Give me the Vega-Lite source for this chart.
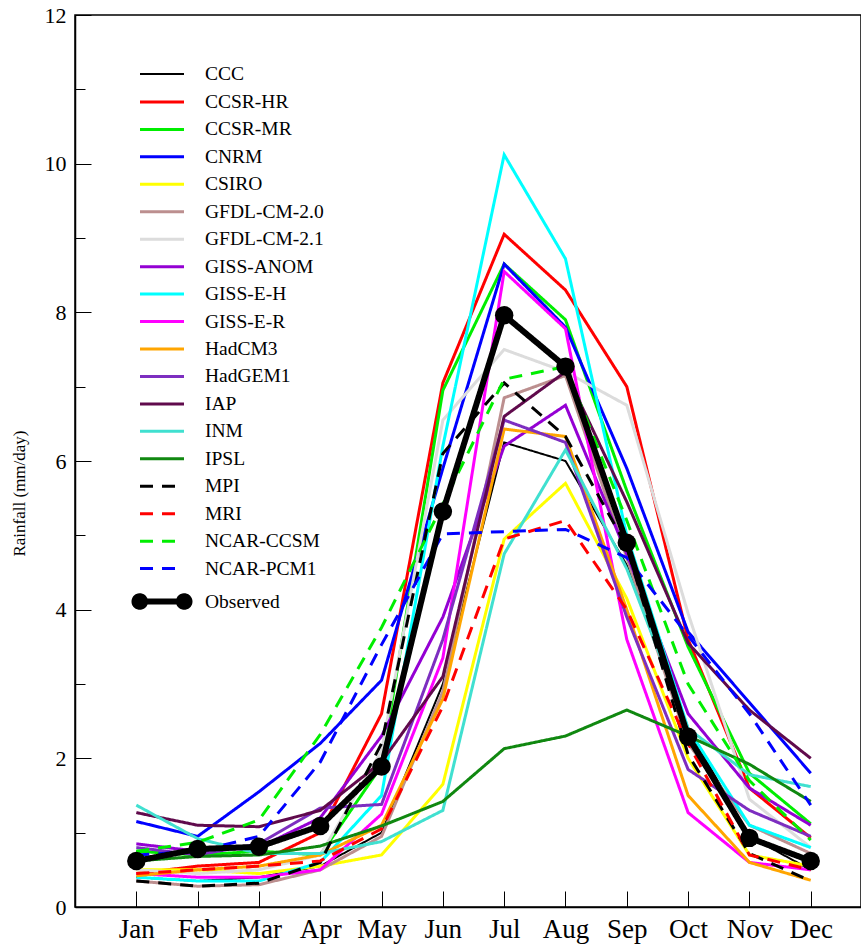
{
  "$schema": "https://vega.github.io/schema/vega-lite/v6.json",
  "autosize": {"type": "none"},
  "padding": {"left": 75, "top": 15, "right": 0, "bottom": 40},
  "width": 786,
  "height": 892,
  "background": "white",
  "config": {
    "view": {"stroke": "black", "strokeWidth": 1.5},
    "font": "Liberation Serif"
  },
  "datasets": {
    "rain": [
      {"s":"CCC","m":1,"v":0.40},{"s":"CCC","m":2,"v":0.35},{"s":"CCC","m":3,"v":0.40},{"s":"CCC","m":4,"v":0.55},{"s":"CCC","m":5,"v":1.00},{"s":"CCC","m":6,"v":3.00},{"s":"CCC","m":7,"v":6.25},{"s":"CCC","m":8,"v":6.00},{"s":"CCC","m":9,"v":4.60},{"s":"CCC","m":10,"v":2.40},{"s":"CCC","m":11,"v":0.95},{"s":"CCC","m":12,"v":0.50},
      {"s":"CCSR-HR","m":1,"v":0.45},{"s":"CCSR-HR","m":2,"v":0.55},{"s":"CCSR-HR","m":3,"v":0.60},{"s":"CCSR-HR","m":4,"v":1.00},{"s":"CCSR-HR","m":5,"v":2.60},{"s":"CCSR-HR","m":6,"v":7.05},{"s":"CCSR-HR","m":7,"v":9.05},{"s":"CCSR-HR","m":8,"v":8.30},{"s":"CCSR-HR","m":9,"v":7.00},{"s":"CCSR-HR","m":10,"v":3.60},{"s":"CCSR-HR","m":11,"v":1.60},{"s":"CCSR-HR","m":12,"v":0.93},
      {"s":"CCSR-MR","m":1,"v":0.75},{"s":"CCSR-MR","m":2,"v":0.70},{"s":"CCSR-MR","m":3,"v":0.75},{"s":"CCSR-MR","m":4,"v":0.70},{"s":"CCSR-MR","m":5,"v":1.90},{"s":"CCSR-MR","m":6,"v":6.95},{"s":"CCSR-MR","m":7,"v":8.65},{"s":"CCSR-MR","m":8,"v":7.90},{"s":"CCSR-MR","m":9,"v":5.60},{"s":"CCSR-MR","m":10,"v":3.50},{"s":"CCSR-MR","m":11,"v":1.80},{"s":"CCSR-MR","m":12,"v":1.12},
      {"s":"CNRM","m":1,"v":1.15},{"s":"CNRM","m":2,"v":0.95},{"s":"CNRM","m":3,"v":1.55},{"s":"CNRM","m":4,"v":2.20},{"s":"CNRM","m":5,"v":3.05},{"s":"CNRM","m":6,"v":5.90},{"s":"CNRM","m":7,"v":8.65},{"s":"CNRM","m":8,"v":7.80},{"s":"CNRM","m":9,"v":5.90},{"s":"CNRM","m":10,"v":3.70},{"s":"CNRM","m":11,"v":2.75},{"s":"CNRM","m":12,"v":1.80},
      {"s":"CSIRO","m":1,"v":0.50},{"s":"CSIRO","m":2,"v":0.50},{"s":"CSIRO","m":3,"v":0.45},{"s":"CSIRO","m":4,"v":0.55},{"s":"CSIRO","m":5,"v":0.70},{"s":"CSIRO","m":6,"v":1.65},{"s":"CSIRO","m":7,"v":4.95},{"s":"CSIRO","m":8,"v":5.70},{"s":"CSIRO","m":9,"v":4.15},{"s":"CSIRO","m":10,"v":2.00},{"s":"CSIRO","m":11,"v":0.70},{"s":"CSIRO","m":12,"v":0.55},
      {"s":"GFDL-CM-2.0","m":1,"v":0.35},{"s":"GFDL-CM-2.0","m":2,"v":0.28},{"s":"GFDL-CM-2.0","m":3,"v":0.30},{"s":"GFDL-CM-2.0","m":4,"v":0.50},{"s":"GFDL-CM-2.0","m":5,"v":0.95},{"s":"GFDL-CM-2.0","m":6,"v":2.90},{"s":"GFDL-CM-2.0","m":7,"v":6.85},{"s":"GFDL-CM-2.0","m":8,"v":7.15},{"s":"GFDL-CM-2.0","m":9,"v":4.70},{"s":"GFDL-CM-2.0","m":10,"v":2.20},{"s":"GFDL-CM-2.0","m":11,"v":1.10},{"s":"GFDL-CM-2.0","m":12,"v":0.72},
      {"s":"GFDL-CM-2.1","m":1,"v":0.50},{"s":"GFDL-CM-2.1","m":2,"v":0.45},{"s":"GFDL-CM-2.1","m":3,"v":0.50},{"s":"GFDL-CM-2.1","m":4,"v":0.70},{"s":"GFDL-CM-2.1","m":5,"v":2.10},{"s":"GFDL-CM-2.1","m":6,"v":6.55},{"s":"GFDL-CM-2.1","m":7,"v":7.50},{"s":"GFDL-CM-2.1","m":8,"v":7.20},{"s":"GFDL-CM-2.1","m":9,"v":6.75},{"s":"GFDL-CM-2.1","m":10,"v":3.95},{"s":"GFDL-CM-2.1","m":11,"v":1.45},{"s":"GFDL-CM-2.1","m":12,"v":0.80},
      {"s":"GISS-ANOM","m":1,"v":0.85},{"s":"GISS-ANOM","m":2,"v":0.75},{"s":"GISS-ANOM","m":3,"v":0.80},{"s":"GISS-ANOM","m":4,"v":1.20},{"s":"GISS-ANOM","m":5,"v":2.30},{"s":"GISS-ANOM","m":6,"v":3.90},{"s":"GISS-ANOM","m":7,"v":6.20},{"s":"GISS-ANOM","m":8,"v":6.75},{"s":"GISS-ANOM","m":9,"v":4.75},{"s":"GISS-ANOM","m":10,"v":2.60},{"s":"GISS-ANOM","m":11,"v":1.60},{"s":"GISS-ANOM","m":12,"v":1.10},
      {"s":"GISS-E-H","m":1,"v":0.40},{"s":"GISS-E-H","m":2,"v":0.35},{"s":"GISS-E-H","m":3,"v":0.35},{"s":"GISS-E-H","m":4,"v":0.60},{"s":"GISS-E-H","m":5,"v":1.50},{"s":"GISS-E-H","m":6,"v":6.20},{"s":"GISS-E-H","m":7,"v":10.12},{"s":"GISS-E-H","m":8,"v":8.72},{"s":"GISS-E-H","m":9,"v":5.00},{"s":"GISS-E-H","m":10,"v":2.40},{"s":"GISS-E-H","m":11,"v":1.10},{"s":"GISS-E-H","m":12,"v":0.80},
      {"s":"GISS-E-R","m":1,"v":0.45},{"s":"GISS-E-R","m":2,"v":0.40},{"s":"GISS-E-R","m":3,"v":0.40},{"s":"GISS-E-R","m":4,"v":0.50},{"s":"GISS-E-R","m":5,"v":1.25},{"s":"GISS-E-R","m":6,"v":3.35},{"s":"GISS-E-R","m":7,"v":8.55},{"s":"GISS-E-R","m":8,"v":7.78},{"s":"GISS-E-R","m":9,"v":3.60},{"s":"GISS-E-R","m":10,"v":1.27},{"s":"GISS-E-R","m":11,"v":0.60},{"s":"GISS-E-R","m":12,"v":0.50},
      {"s":"HadCM3","m":1,"v":0.42},{"s":"HadCM3","m":2,"v":0.50},{"s":"HadCM3","m":3,"v":0.55},{"s":"HadCM3","m":4,"v":0.70},{"s":"HadCM3","m":5,"v":1.10},{"s":"HadCM3","m":6,"v":2.80},{"s":"HadCM3","m":7,"v":6.43},{"s":"HadCM3","m":8,"v":6.33},{"s":"HadCM3","m":9,"v":4.00},{"s":"HadCM3","m":10,"v":1.50},{"s":"HadCM3","m":11,"v":0.60},{"s":"HadCM3","m":12,"v":0.36},
      {"s":"HadGEM1","m":1,"v":0.80},{"s":"HadGEM1","m":2,"v":0.70},{"s":"HadGEM1","m":3,"v":0.85},{"s":"HadGEM1","m":4,"v":1.33},{"s":"HadGEM1","m":5,"v":1.38},{"s":"HadGEM1","m":6,"v":3.60},{"s":"HadGEM1","m":7,"v":6.55},{"s":"HadGEM1","m":8,"v":6.25},{"s":"HadGEM1","m":9,"v":3.90},{"s":"HadGEM1","m":10,"v":1.85},{"s":"HadGEM1","m":11,"v":1.30},{"s":"HadGEM1","m":12,"v":0.95},
      {"s":"IAP","m":1,"v":1.27},{"s":"IAP","m":2,"v":1.10},{"s":"IAP","m":3,"v":1.08},{"s":"IAP","m":4,"v":1.30},{"s":"IAP","m":5,"v":1.95},{"s":"IAP","m":6,"v":3.10},{"s":"IAP","m":7,"v":6.60},{"s":"IAP","m":8,"v":7.20},{"s":"IAP","m":9,"v":5.45},{"s":"IAP","m":10,"v":3.55},{"s":"IAP","m":11,"v":2.65},{"s":"IAP","m":12,"v":2.00},
      {"s":"INM","m":1,"v":1.37},{"s":"INM","m":2,"v":0.92},{"s":"INM","m":3,"v":0.72},{"s":"INM","m":4,"v":0.72},{"s":"INM","m":5,"v":0.88},{"s":"INM","m":6,"v":1.30},{"s":"INM","m":7,"v":4.75},{"s":"INM","m":8,"v":6.15},{"s":"INM","m":9,"v":4.55},{"s":"INM","m":10,"v":2.40},{"s":"INM","m":11,"v":1.78},{"s":"INM","m":12,"v":1.62},
      {"s":"IPSL","m":1,"v":0.62},{"s":"IPSL","m":2,"v":0.68},{"s":"IPSL","m":3,"v":0.70},{"s":"IPSL","m":4,"v":0.82},{"s":"IPSL","m":5,"v":1.09},{"s":"IPSL","m":6,"v":1.42},{"s":"IPSL","m":7,"v":2.13},{"s":"IPSL","m":8,"v":2.30},{"s":"IPSL","m":9,"v":2.65},{"s":"IPSL","m":10,"v":2.30},{"s":"IPSL","m":11,"v":1.92},{"s":"IPSL","m":12,"v":1.42},
      {"s":"MPI","m":1,"v":0.35},{"s":"MPI","m":2,"v":0.28},{"s":"MPI","m":3,"v":0.32},{"s":"MPI","m":4,"v":0.60},{"s":"MPI","m":5,"v":2.20},{"s":"MPI","m":6,"v":6.10},{"s":"MPI","m":7,"v":7.05},{"s":"MPI","m":8,"v":6.33},{"s":"MPI","m":9,"v":4.85},{"s":"MPI","m":10,"v":2.05},{"s":"MPI","m":11,"v":0.72},{"s":"MPI","m":12,"v":0.35},
      {"s":"MRI","m":1,"v":0.45},{"s":"MRI","m":2,"v":0.50},{"s":"MRI","m":3,"v":0.55},{"s":"MRI","m":4,"v":0.62},{"s":"MRI","m":5,"v":1.05},{"s":"MRI","m":6,"v":2.70},{"s":"MRI","m":7,"v":4.95},{"s":"MRI","m":8,"v":5.20},{"s":"MRI","m":9,"v":4.00},{"s":"MRI","m":10,"v":2.20},{"s":"MRI","m":11,"v":0.70},{"s":"MRI","m":12,"v":0.50},
      {"s":"NCAR-CCSM","m":1,"v":0.75},{"s":"NCAR-CCSM","m":2,"v":0.87},{"s":"NCAR-CCSM","m":3,"v":1.17},{"s":"NCAR-CCSM","m":4,"v":2.32},{"s":"NCAR-CCSM","m":5,"v":3.76},{"s":"NCAR-CCSM","m":6,"v":5.42},{"s":"NCAR-CCSM","m":7,"v":7.10},{"s":"NCAR-CCSM","m":8,"v":7.27},{"s":"NCAR-CCSM","m":9,"v":5.20},{"s":"NCAR-CCSM","m":10,"v":3.00},{"s":"NCAR-CCSM","m":11,"v":1.70},{"s":"NCAR-CCSM","m":12,"v":0.90},
      {"s":"NCAR-PCM1","m":1,"v":0.70},{"s":"NCAR-PCM1","m":2,"v":0.75},{"s":"NCAR-PCM1","m":3,"v":0.95},{"s":"NCAR-PCM1","m":4,"v":1.95},{"s":"NCAR-PCM1","m":5,"v":3.53},{"s":"NCAR-PCM1","m":6,"v":5.02},{"s":"NCAR-PCM1","m":7,"v":5.05},{"s":"NCAR-PCM1","m":8,"v":5.08},{"s":"NCAR-PCM1","m":9,"v":4.70},{"s":"NCAR-PCM1","m":10,"v":3.65},{"s":"NCAR-PCM1","m":11,"v":2.60},{"s":"NCAR-PCM1","m":12,"v":1.37},
      {"s":"Observed","m":1,"v":0.62},{"s":"Observed","m":2,"v":0.78},{"s":"Observed","m":3,"v":0.81},{"s":"Observed","m":4,"v":1.09},{"s":"Observed","m":5,"v":1.89},{"s":"Observed","m":6,"v":5.32},{"s":"Observed","m":7,"v":7.96},{"s":"Observed","m":8,"v":7.27},{"s":"Observed","m":9,"v":4.90},{"s":"Observed","m":10,"v":2.29},{"s":"Observed","m":11,"v":0.93},{"s":"Observed","m":12,"v":0.62}
    ]
  },
  "data": {"name": "rain"},
  "encoding": {
    "x": {
      "field": "m", "type": "quantitative",
      "scale": {"domain": [0, 12.82], "nice": false, "zero": false},
      "axis": {
        "title": null, "grid": false,
        "values": [1,2,3,4,5,6,7,8,9,10,11,12],
        "labelExpr": "['Jan','Feb','Mar','Apr','May','Jun','Jul','Aug','Sep','Oct','Nov','Dec'][datum.value-1]",
        "labelFont": "Liberation Serif", "labelFontSize": 27, "labelColor": "black",
        "labelPadding": 25,
        "tickSize": -16, "tickColor": "black", "tickWidth": 1,
        "domainColor": "black", "domainWidth": 1.5, "labelFlush": false
      }
    },
    "y": {
      "field": "v", "type": "quantitative",
      "scale": {"domain": [0, 12], "nice": false},
      "axis": {
        "title": "Rainfall (mm/day)",
        "titleFont": "Liberation Serif", "titleFontSize": 17, "titleFontWeight": "normal", "titleColor": "black",
        "titlePadding": 16, "titleY": 478,
        "grid": false,
        "values": [0,1,2,3,4,5,6,7,8,9,10,11,12],
        "labelExpr": "datum.value % 2 == 0 ? datum.label : ''",
        "labelFont": "Liberation Serif", "labelFontSize": 22, "labelColor": "black",
        "labelPadding": 25,
        "tickSize": {"condition": {"test": "datum.value % 2 == 1", "value": -10}, "value": -16},
        "tickColor": "black", "tickWidth": 1,
        "domainColor": "black", "domainWidth": 1.5, "labelFlush": false
      }
    }
  },
  "layer": [
    {
      "mark": {"type": "line", "strokeJoin": "miter"},
      "encoding": {
        "color": {
          "field": "s", "type": "nominal",
          "scale": {
            "domain": ["CCC","CCSR-HR","CCSR-MR","CNRM","CSIRO","GFDL-CM-2.0","GFDL-CM-2.1","GISS-ANOM","GISS-E-H","GISS-E-R","HadCM3","HadGEM1","IAP","INM","IPSL","MPI","MRI","NCAR-CCSM","NCAR-PCM1","Observed"],
            "range": ["#000000","#ff0000","#00ee00","#0000ff","#ffff00","#bc8f8f","#dcdcdc","#9400d3","#00ffff","#ff00ff","#ffa500","#7d2ec0","#600a4c","#40e0d0","#108810","#000000","#ff0000","#00ee00","#0000ff","#000000"]
          },
          "legend": {
            "title": null, "orient": "none", "legendX": 73, "legendY": 47,
            "symbolType": "M-2,0H2", "symbolSize": 484, "symbolStrokeWidth": 3,
            "labelFont": "Liberation Serif", "labelFontSize": 19.5, "labelColor": "black",
            "labelOffset": 29, "rowPadding": 5.45, "padding": 0, "labelLimit": 300,
            "encode": {
              "symbols": {
                "update": {
                  "shape": {"signal": "datum.value === 'Observed' ? 'M-2,0H2M-2.5,0a0.48,0.48 0 1,0 0.96,0a0.48,0.48 0 1,0 -0.96,0M1.54,0a0.48,0.48 0 1,0 0.96,0a0.48,0.48 0 1,0 -0.96,0' : 'M-2,0H2'"},
                  "fill": {"signal": "datum.value === 'Observed' ? 'black' : 'transparent'"}
                }
              }
            }
          }
        },
        "strokeDash": {
          "field": "s", "type": "nominal",
          "scale": {
            "domain": ["CCC","CCSR-HR","CCSR-MR","CNRM","CSIRO","GFDL-CM-2.0","GFDL-CM-2.1","GISS-ANOM","GISS-E-H","GISS-E-R","HadCM3","HadGEM1","IAP","INM","IPSL","MPI","MRI","NCAR-CCSM","NCAR-PCM1","Observed"],
            "range": [[1,0],[1,0],[1,0],[1,0],[1,0],[1,0],[1,0],[1,0],[1,0],[1,0],[1,0],[1,0],[1,0],[1,0],[1,0],[13,9],[13,9],[13,9],[13,9],[1,0]]
          },
          "legend": null
        },
        "strokeWidth": {
          "field": "s", "type": "nominal",
          "scale": {
            "type": "ordinal",
            "domain": ["CCC","CCSR-HR","CCSR-MR","CNRM","CSIRO","GFDL-CM-2.0","GFDL-CM-2.1","GISS-ANOM","GISS-E-H","GISS-E-R","HadCM3","HadGEM1","IAP","INM","IPSL","MPI","MRI","NCAR-CCSM","NCAR-PCM1","Observed"],
            "range": [2,3,3,3,3,3,3,3,3,3,3,3,3,3,3,3,3,3,3,6]
          },
          "legend": null
        }
      }
    },
    {
      "transform": [{"filter": "datum.s === 'Observed'"}],
      "mark": {"type": "point", "filled": true, "color": "black", "opacity": 1, "size": 340}
    }
  ]
}
